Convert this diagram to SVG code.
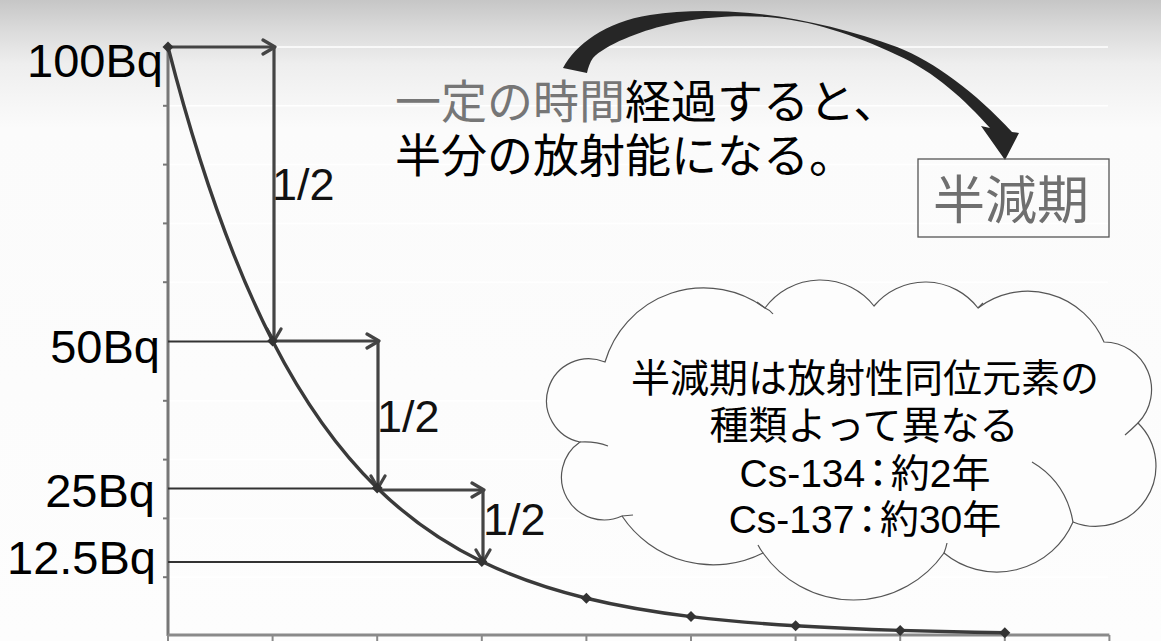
<svg xmlns="http://www.w3.org/2000/svg" width="1161" height="641" viewBox="0 0 1161 641">
<defs>
<linearGradient id="bg" x1="0" y1="0" x2="0" y2="1">
<stop offset="0" stop-color="#c6c6c6"/>
<stop offset="0.05" stop-color="#dcdcdc"/>
<stop offset="0.1" stop-color="#eeeeee"/>
<stop offset="0.2" stop-color="#fbfbfb"/>
<stop offset="1" stop-color="#fdfdfd"/>
</linearGradient>
<marker id="open" viewBox="0 0 16 18" refX="14" refY="9" markerWidth="16" markerHeight="18" markerUnits="userSpaceOnUse" orient="auto">
<path d="M2,2 L14,9 L2,16" fill="none" stroke="#444" stroke-width="3.2" stroke-linecap="round" stroke-linejoin="round"/>
</marker>
<path id="dia" d="M0,-5.5 L5.5,0 L0,5.5 L-5.5,0 Z" fill="#333"/>
<style>
.lbl{font-family:"Liberation Sans","Noto Sans CJK JP",sans-serif;fill:#000}
.ax{font-size:47px}
.half{font-size:45px;fill:#111}
.grid{stroke:#ffffff;stroke-width:1.5}
.arr{stroke:#444;stroke-width:3.2;fill:none;marker-end:url(#open)}
.thin{stroke:#333;stroke-width:2}
.cloud{fill:none;stroke:#555;stroke-width:1.2}
.colon{font-feature-settings:"palt"}
</style>
</defs>
<rect width="1161" height="641" fill="url(#bg)"/>

<g id="grid">
<line class="grid" x1="168" y1="47" x2="1108" y2="47"/>
<line class="grid" x1="168" y1="105.8" x2="1108" y2="105.8"/>
<line class="grid" x1="168" y1="164.6" x2="1108" y2="164.6"/>
<line class="grid" x1="168" y1="223.4" x2="1108" y2="223.4"/>
<line class="grid" x1="168" y1="282.2" x2="1108" y2="282.2"/>
<line class="grid" x1="168" y1="400.8" x2="1108" y2="400.8"/>
<line class="grid" x1="168" y1="459.6" x2="1108" y2="459.6"/>
<line class="grid" x1="168" y1="518.4" x2="1108" y2="518.4"/>
<line class="grid" x1="168" y1="577.2" x2="1108" y2="577.2"/>
</g>

<g id="axes" stroke-width="2">
<line x1="168" y1="46" x2="168" y2="636" stroke="#777" stroke-width="3"/>
<line x1="168" y1="635" x2="1109.4" y2="635" stroke="#8a8a8a" stroke-width="3"/>
<g stroke="#777">
<line x1="163" y1="105.8" x2="168" y2="105.8"/><line x1="163" y1="164.6" x2="168" y2="164.6"/>
<line x1="163" y1="223.4" x2="168" y2="223.4"/><line x1="163" y1="282.2" x2="168" y2="282.2"/>
<line x1="163" y1="400.8" x2="168" y2="400.8"/><line x1="163" y1="459.6" x2="168" y2="459.6"/>
<line x1="163" y1="518.4" x2="168" y2="518.4"/><line x1="163" y1="577.2" x2="168" y2="577.2"/>
</g>
<g stroke="#8a8a8a">
<line x1="168" y1="635" x2="168" y2="641"/><line x1="272.6" y1="635" x2="272.6" y2="641"/>
<line x1="377.2" y1="635" x2="377.2" y2="641"/><line x1="481.8" y1="635" x2="481.8" y2="641"/>
<line x1="586.4" y1="635" x2="586.4" y2="641"/><line x1="691" y1="635" x2="691" y2="641"/>
<line x1="795.6" y1="635" x2="795.6" y2="641"/><line x1="900.2" y1="635" x2="900.2" y2="641"/>
<line x1="1004.8" y1="635" x2="1004.8" y2="641"/><line x1="1109.4" y1="635" x2="1109.4" y2="641"/>
</g>
</g>

<g id="connectors">
<line class="thin" x1="168" y1="341.5" x2="273" y2="341.5"/>
<line class="thin" x1="168" y1="488.5" x2="377" y2="488.5"/>
<line class="thin" x1="168" y1="562" x2="482" y2="562"/>
<line class="arr" x1="168" y1="47" x2="275" y2="47"/>
<line class="arr" x1="274" y1="47" x2="274" y2="341"/>
<line class="arr" x1="273" y1="341" x2="379" y2="341"/>
<line class="arr" x1="378" y1="341" x2="378" y2="488"/>
<line class="arr" x1="377" y1="490" x2="484" y2="490"/>
<line class="arr" x1="483" y1="490" x2="483" y2="562"/>
<path id="big-arrow" fill="#262626" d="M563,68 C575,45 605,22 650,15 C680,10 717,10 750,13 C800,18 850,30 897,47 C935,62 975,92 1012,132 L1019,133 L1005,160 L981,126 L990,128 C965,100 935,72 897,55 C855,35 810,20 767,17 C735,15 700,17 667,25 C640,31 605,45 593,58 C590,62 588,68 587,73 Z"/>
</g>

<g id="curve">
<path d="M168,47 C202.87,182.83 237.73,273.09 272.6,341 C307.47,408.91 342.33,454.05 377.2,488 C412.07,521.96 446.93,544.52 481.8,561.5 C516.67,578.48 551.53,589.76 586.4,598.25 C621.27,606.74 656.13,612.38 691,616.63 C725.87,620.87 760.73,623.69 795.6,625.81 C830.47,627.94 865.33,629.34 900.2,630.41 C935.07,631.47 969.93,632.17 1004.8,632.7" fill="none" stroke="#3a3a3a" stroke-width="3.4"/>
<use href="#dia" x="168" y="47"/><use href="#dia" x="272.6" y="341"/><use href="#dia" x="377.2" y="488"/>
<use href="#dia" x="481.8" y="561.5"/><use href="#dia" x="586.4" y="598.3"/><use href="#dia" x="691" y="616.6"/>
<use href="#dia" x="795.6" y="625.8"/><use href="#dia" x="900.2" y="630.4"/><use href="#dia" x="1004.8" y="632.7"/>
</g>

<g id="axis-labels" class="lbl ax" text-anchor="end">
<text x="163" y="77">100Bq</text>
<text x="160" y="363">50Bq</text>
<text x="155" y="507">25Bq</text>
<text x="156" y="574">12.5Bq</text>
</g>

<g id="half-labels" class="lbl half">
<text x="272" y="200">1/2</text>
<text x="377" y="432">1/2</text>
<text x="483" y="535">1/2</text>
</g>

<g id="caption" class="lbl" font-size="46">
<text x="395" y="118"><tspan fill="#767676">一定の時間</tspan>経過すると、</text>
<text x="395" y="172">半分の放射能になる。</text>
</g>

<g id="halflife-box">
<rect x="918" y="159" width="191" height="78" fill="none" stroke="#555" stroke-width="1.3"/>
<text class="lbl" x="1011" y="219" font-size="52" text-anchor="middle" style="fill:#6f6f6f">半減期</text>
</g>

<g id="cloud">
<path d="M605,362 A103,103 0 0 1 765,308 A68.5,68.5 0 0 1 874,306 A66.6,66.6 0 0 1 978,308 A82.5,82.5 0 0 1 1104,342 A47.7,47.7 0 0 1 1138,423 A60.4,60.4 0 0 1 1073,522 A82.9,82.9 0 0 1 944,553 A110.6,110.6 0 0 1 763,553 A109.8,109.8 0 0 1 622,516 A42.7,42.7 0 0 1 580,442 A42.1,42.1 0 1 1 605,362 Z" fill="#fdfdfd" stroke="#555" stroke-width="1.2"/>
<path class="cloud" d="M1032,462 Q1066,482 1073,522"/>
<path class="cloud" d="M1138,423 Q1131,430 1125,435"/>
<path class="cloud" d="M580,442 Q595,441 608,446"/>
<path class="cloud" d="M765,308 Q770,310 773,314"/>
<path class="cloud" d="M757,302 Q761,305 765,308"/>
<path class="cloud" d="M978,308 L983,303"/>
<path class="cloud" d="M944,553 Q946,548 947,543"/>
<path class="cloud" d="M763,553 Q760,549 758,545"/>
<path class="cloud" d="M622,516 L633,515"/>
<g class="lbl" font-size="39" text-anchor="middle">
<text x="865" y="392">半減期は放射性同位元素の</text>
<text x="864" y="439">種類よって異なる</text>
<text x="865" y="487">Cs-134<tspan class="colon" dx="3">：</tspan><tspan dx="3">約2年</tspan></text>
<text x="865" y="533">Cs-137<tspan class="colon" dx="3">：</tspan><tspan dx="3">約30年</tspan></text>
</g>
</g>
</svg>
